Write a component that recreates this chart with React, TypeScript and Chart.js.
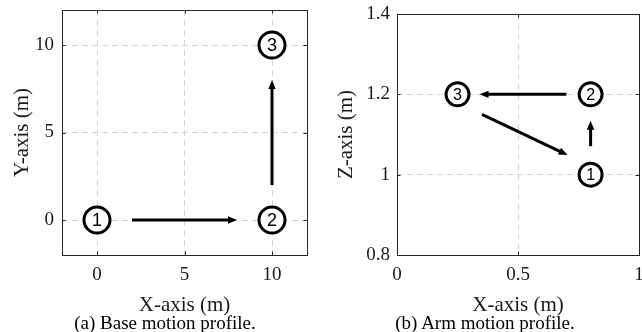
import React, { useEffect, useRef } from 'react';
import { Chart, registerables } from 'chart.js';

Chart.register(...registerables);

// ---- (a) Base motion profile ----
const baseStopLabels = ['1', '2', '3'];
const baseStopX = [0, 10, 10];
const baseStopY = [0, 0, 10];
const baseArrowStartX = [2, 10];
const baseArrowStartY = [0, 2];
const baseArrowEndX = [8, 10];
const baseArrowEndY = [0, 8];
const baseXRange = [-2, 12];
const baseYRange = [-2, 12];
const baseXTicks = [0, 5, 10];
const baseXTickLabels = ['0', '5', '10'];
const baseYTicks = [0, 5, 10];
const baseYTickLabels = ['0', '5', '10'];

// ---- (b) Arm motion profile ----
const armStopLabels = ['1', '2', '3'];
const armStopX = [0.8, 0.8, 0.25];
const armStopY = [1.0, 1.2, 1.2];
const armArrowStartX = [0.8, 0.7, 0.351];
const armArrowStartY = [1.071, 1.2, 1.15];
const armArrowEndX = [0.8, 0.341, 0.705];
const armArrowEndY = [1.134, 1.2, 1.049];
const armXRange = [0, 1];
const armYRange = [0.8, 1.4];
const armXTicks = [0, 0.5, 1];
const armXTickLabels = ['0', '0.5', '1'];
const armYTicks = [0.8, 1, 1.2, 1.4];
const armYTickLabels = ['0.8', '1', '1.2', '1.4'];

const TEXT = '#1a1a1a';
const FRAME = '#262626';
const GRID = '#d6d6d6';
const SERIF = '"Liberation Serif", "Times New Roman", serif';
const SANS = '"Liberation Sans", Arial, sans-serif';

const motionPlugin = {
  id: 'motion',
  afterDatasetsDraw(chart: any) {
    const ctx = chart.ctx;
    const cfg = chart.options.plugins.motion;
    chart.data.datasets.forEach((ds: any, i: number) => {
      const meta = chart.getDatasetMeta(i);
      if (ds.kind === 'arrow') {
        const a = meta.data[0];
        const b = meta.data[1];
        const dx = b.x - a.x;
        const dy = b.y - a.y;
        const len = Math.hypot(dx, dy);
        const ux = dx / len;
        const uy = dy / len;
        const hl = cfg.headLength;
        const hw = cfg.headHalfWidth;
        const bx = b.x - ux * hl;
        const by = b.y - uy * hl;
        ctx.save();
        ctx.strokeStyle = '#000';
        ctx.lineWidth = cfg.arrowWidth;
        ctx.lineCap = 'butt';
        ctx.beginPath();
        ctx.moveTo(a.x, a.y);
        ctx.lineTo(bx + ux * 1, by + uy * 1);
        ctx.stroke();
        ctx.fillStyle = '#000';
        ctx.beginPath();
        ctx.moveTo(b.x, b.y);
        ctx.lineTo(bx - uy * hw, by + ux * hw);
        ctx.lineTo(bx + uy * hw, by - ux * hw);
        ctx.closePath();
        ctx.fill();
        ctx.restore();
      } else if (ds.kind === 'stop') {
        ctx.save();
        ctx.fillStyle = '#000';
        ctx.font = `${cfg.numberSize}px ${SANS}`;
        ctx.textAlign = 'center';
        ctx.textBaseline = 'alphabetic';
        meta.data.forEach((el: any, j: number) => {
          ctx.fillText(ds.stopLabels[j], el.x, el.y + cfg.numberSize * 0.36);
        });
        ctx.restore();
      }
    });
  },
  afterDraw(chart: any) {
    const ctx = chart.ctx;
    const { left, right, top, bottom } = chart.chartArea;
    const xs = chart.scales.x;
    const ys = chart.scales.y;
    const tl = 3.5;
    ctx.save();
    ctx.strokeStyle = FRAME;
    ctx.lineWidth = 1;
    ctx.beginPath();
    xs.ticks.forEach((t: any) => {
      const px = Math.round(xs.getPixelForValue(t.value)) + 0.5;
      ctx.moveTo(px, bottom);
      ctx.lineTo(px, bottom - tl);
      ctx.moveTo(px, top);
      ctx.lineTo(px, top + tl);
    });
    ys.ticks.forEach((t: any) => {
      const py = Math.round(ys.getPixelForValue(t.value)) + 0.5;
      ctx.moveTo(left, py);
      ctx.lineTo(left + tl, py);
      ctx.moveTo(right, py);
      ctx.lineTo(right - tl, py);
    });
    ctx.stroke();
    ctx.strokeRect(Math.round(left) + 0.5, Math.round(top) + 0.5, Math.round(right - left), Math.round(bottom - top));
    ctx.restore();
  },
};

type Params = {
  stopLabels: string[];
  stopX: number[];
  stopY: number[];
  arrowStartX: number[];
  arrowStartY: number[];
  arrowEndX: number[];
  arrowEndY: number[];
  xRange: number[];
  yRange: number[];
  xTicks: number[];
  xTickLabels: string[];
  yTicks: number[];
  yTickLabels: string[];
  yTitle: string;
  padTop: number;
  padRight: number;
  yAxisWidth: number;
  xAxisHeight: number;
  yTickPad: number;
  yTitlePad: number;
  radius: number;
  numberSize: number;
};

function makeConfig(p: Params): any {
  const tickFont = { family: SERIF, size: 19 };
  const titleFont = { family: SERIF, size: 21, lineHeight: 1.2 };
  const datasets: any[] = [
    {
      kind: 'stop',
      stopLabels: p.stopLabels,
      data: p.stopX.map((x, i) => ({ x, y: p.stopY[i] })),
      pointRadius: p.radius,
      pointBorderWidth: 3,
      pointBackgroundColor: '#ffffff',
      pointBorderColor: '#000000',
      showLine: false,
    },
  ];
  p.arrowStartX.forEach((x0, i) => {
    datasets.push({
      kind: 'arrow',
      data: [
        { x: x0, y: p.arrowStartY[i] },
        { x: p.arrowEndX[i], y: p.arrowEndY[i] },
      ],
      pointRadius: 0,
      showLine: false,
    });
  });
  return {
    type: 'scatter',
    data: { datasets },
    options: {
      responsive: false,
      animation: false,
      events: [],
      layout: {
        autoPadding: false,
        padding: { top: p.padTop, right: p.padRight, left: 0, bottom: 0 },
      },
      plugins: {
        legend: { display: false },
        tooltip: { enabled: false },
        motion: { headLength: 9, headHalfWidth: 3.7, arrowWidth: 3, numberSize: p.numberSize },
      },
      scales: {
        x: {
          type: 'linear',
          position: 'bottom',
          min: p.xRange[0],
          max: p.xRange[1],
          afterBuildTicks: (s: any) => {
            s.ticks = p.xTicks.map((v) => ({ value: v }));
          },
          afterFit: (s: any) => {
            s.height = p.xAxisHeight;
            s.paddingLeft = 0;
            s.paddingRight = 0;
          },
          ticks: {
            padding: 9,
            maxRotation: 0,
            autoSkip: false,
            color: TEXT,
            font: tickFont,
            callback: (_v: any, i: number) => p.xTickLabels[i],
          },
          grid: { color: GRID, lineWidth: 1, drawTicks: false },
          border: { display: false, dash: [6, 4] },
          title: {
            display: true,
            text: 'X-axis (m)',
            color: TEXT,
            font: titleFont,
            padding: { top: 0, bottom: 14 },
          },
        },
        y: {
          type: 'linear',
          position: 'left',
          min: p.yRange[0],
          max: p.yRange[1],
          afterBuildTicks: (s: any) => {
            s.ticks = p.yTicks.map((v) => ({ value: v }));
          },
          afterFit: (s: any) => {
            s.width = p.yAxisWidth;
            s.paddingTop = 0;
            s.paddingBottom = 0;
          },
          ticks: {
            padding: p.yTickPad,
            autoSkip: false,
            color: TEXT,
            font: tickFont,
            callback: (_v: any, i: number) => p.yTickLabels[i],
          },
          grid: { color: GRID, lineWidth: 1, drawTicks: false },
          border: { display: false, dash: [6, 4] },
          title: {
            display: true,
            text: p.yTitle,
            color: TEXT,
            font: titleFont,
            padding: { top: p.yTitlePad, bottom: 0 },
          },
        },
      },
    },
    plugins: [motionPlugin],
  };
}

function MotionChart({ params, left }: { params: Params; left: number }) {
  const ref = useRef<HTMLCanvasElement>(null);
  useEffect(() => {
    const chart = new Chart(ref.current as HTMLCanvasElement, makeConfig(params));
    return () => chart.destroy();
  }, []);
  return (
    <canvas
      ref={ref}
      width={321}
      height={332}
      style={{ position: 'absolute', left, top: 0, width: 321, height: 332 }}
    />
  );
}

const baseParams: Params = {
  stopLabels: baseStopLabels,
  stopX: baseStopX,
  stopY: baseStopY,
  arrowStartX: baseArrowStartX,
  arrowStartY: baseArrowStartY,
  arrowEndX: baseArrowEndX,
  arrowEndY: baseArrowEndY,
  xRange: baseXRange,
  yRange: baseYRange,
  xTicks: baseXTicks,
  xTickLabels: baseXTickLabels,
  yTicks: baseYTicks,
  yTickLabels: baseYTickLabels,
  yTitle: 'Y-axis (m)',
  padTop: 10,
  padRight: 14,
  yAxisWidth: 62,
  xAxisHeight: 77,
  yTickPad: 8,
  yTitlePad: 10,
  radius: 13,
  numberSize: 18,
};

const armParams: Params = {
  stopLabels: armStopLabels,
  stopX: armStopX,
  stopY: armStopY,
  arrowStartX: armArrowStartX,
  arrowStartY: armArrowStartY,
  arrowEndX: armArrowEndX,
  arrowEndY: armArrowEndY,
  xRange: armXRange,
  yRange: armYRange,
  xTicks: armXTicks,
  xTickLabels: armXTickLabels,
  yTicks: armYTicks,
  yTickLabels: armYTickLabels,
  yTitle: 'Z-axis (m)',
  padTop: 14,
  padRight: 3,
  yAxisWidth: 76,
  xAxisHeight: 77,
  yTickPad: 7,
  yTitlePad: 13,
  radius: 11.5,
  numberSize: 16,
};

const captionStyle: React.CSSProperties = {
  position: 'absolute',
  top: 313,
  width: 321,
  textAlign: 'center',
  fontFamily: SERIF,
  fontSize: 19,
  lineHeight: '19px',
  color: '#000',
  whiteSpace: 'nowrap',
};

export default function App() {
  return (
    <div
      style={{
        position: 'fixed',
        left: 0,
        top: 0,
        width: 642,
        height: 332,
        overflow: 'hidden',
        background: '#fff',
      }}
    >
      <MotionChart params={baseParams} left={0} />
      <MotionChart params={armParams} left={321} />
      <div style={{ ...captionStyle, left: 4.5 }}>(a) Base motion profile.</div>
      <div style={{ ...captionStyle, left: 324.5 }}>(b) Arm motion profile.</div>
    </div>
  );
}
